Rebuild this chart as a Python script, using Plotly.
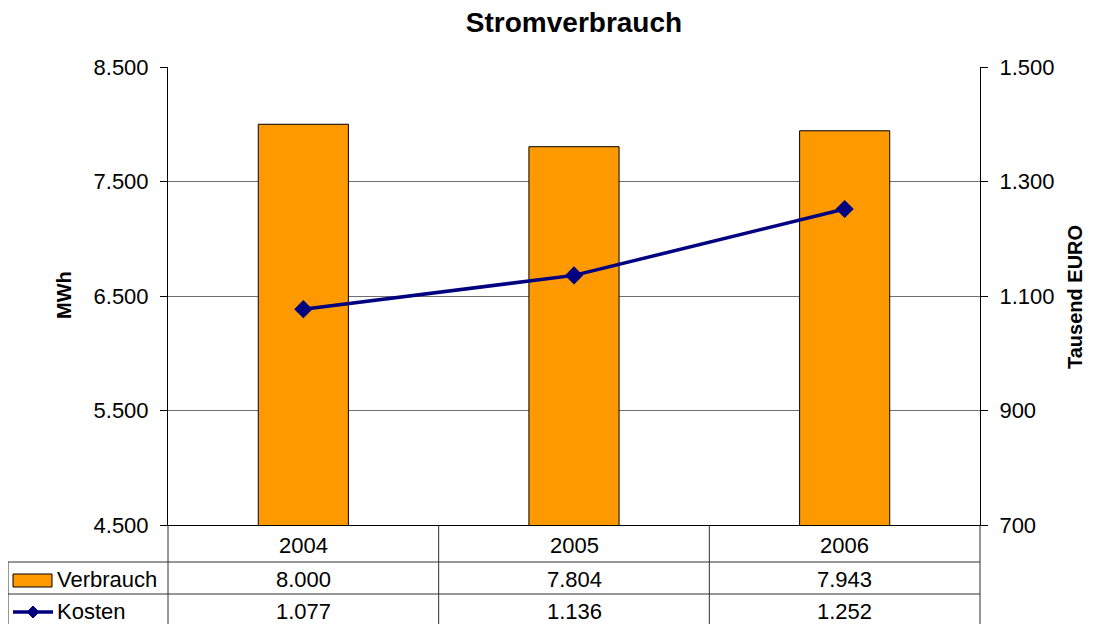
import plotly.graph_objects as go

# ---- data ----
years = ["2004", "2005", "2006"]
verbrauch = [8000, 7804, 7943]          # MWh
kosten = [1077, 1136, 1252]             # Tausend EURO
left_ticks = [4500, 5500, 6500, 7500, 8500]
right_ticks = [700, 900, 1100, 1300, 1500]

FONT = "Liberation Sans, Arial, sans-serif"
ORANGE = "#FF9900"
NAVY = "#000080"


def de(v):
    return f"{v:,}".replace(",", ".")


# page offset of the plot div (body margin)
OFF = 8
W, H = 1095 - OFF, 624 - OFF
# plot area in page pixels: x 168..980, y 67..525
PX0, PX1, PY0, PY1 = 168, 980, 67, 525
L, R, T, B = PX0 - OFF, (W + OFF) - PX1, PY0 - OFF, (H + OFF) - PY1
PW = PX1 - PX0
PH = PY1 - PY0


def px_x(px):
    return (px - PX0) / PW


def px_y(py):
    return (PY1 - py) / PH


fig = go.Figure()
fig.add_trace(go.Bar(
    x=years, y=verbrauch, name="Verbrauch", width=0.333,
    marker=dict(color=ORANGE, line=dict(color="#000000", width=1)),
    yaxis="y",
))
fig.add_trace(go.Scatter(
    x=years, y=kosten, name="Kosten", mode="lines+markers",
    line=dict(color=NAVY, width=3.5),
    marker=dict(symbol="diamond", size=14, color=NAVY),
    yaxis="y2",
))

shapes = []
annotations = []
line_style = dict(color="#303030", width=1)

# table horizontal lines
for py in (562, 594):
    shapes.append(dict(type="line", xref="paper", yref="paper",
                       x0=px_x(8), x1=1, y0=px_y(py), y1=px_y(py), line=line_style))
# table vertical lines
y_bot = px_y(640)
shapes.append(dict(type="line", xref="paper", yref="paper", x0=0, x1=0,
                   y0=0, y1=y_bot, line=line_style))
shapes.append(dict(type="line", xref="paper", yref="paper", x0=1, x1=1,
                   y0=0, y1=y_bot, line=line_style))
shapes.append(dict(type="line", xref="paper", yref="paper", x0=px_x(8), x1=px_x(8),
                   y0=px_y(562), y1=y_bot, line=line_style))
for i in range(len(years) - 1):
    shapes.append(dict(type="line", xref="x", yref="paper", x0=i + 0.5, x1=i + 0.5,
                       y0=0, y1=y_bot, line=line_style))

# legend keys
shapes.append(dict(type="rect", xref="paper", yref="paper",
                   x0=px_x(13), x1=px_x(52), y0=px_y(587), y1=px_y(574),
                   fillcolor=ORANGE, line=dict(color="#000000", width=1)))
shapes.append(dict(type="line", xref="paper", yref="paper",
                   x0=px_x(13), x1=px_x(53), y0=px_y(612), y1=px_y(612),
                   line=dict(color=NAVY, width=3.5)))
cx, cy, d = 33, 612, 6
path = (f"M {px_x(cx - d)} {px_y(cy)} L {px_x(cx)} {px_y(cy - d)} "
        f"L {px_x(cx + d)} {px_y(cy)} L {px_x(cx)} {px_y(cy + d)} Z")
shapes.append(dict(type="path", xref="paper", yref="paper", path=path,
                   fillcolor=NAVY, line=dict(color=NAVY, width=1)))

tfont = dict(family=FONT, size=22, color="#000000")
for i, yr in enumerate(years):
    annotations.append(dict(x=i, xref="x", y=px_y(545), yref="paper", text=yr,
                            showarrow=False, font=tfont, xanchor="center", yanchor="middle"))
    annotations.append(dict(x=i, xref="x", y=px_y(579), yref="paper", text=de(verbrauch[i]),
                            showarrow=False, font=tfont, xanchor="center", yanchor="middle"))
    annotations.append(dict(x=i, xref="x", y=px_y(611), yref="paper", text=de(kosten[i]),
                            showarrow=False, font=tfont, xanchor="center", yanchor="middle"))
annotations.append(dict(x=px_x(55), xref="paper", y=px_y(579), yref="paper", text="Verbrauch",
                        showarrow=False, font=tfont, xanchor="left", yanchor="middle"))
annotations.append(dict(x=px_x(55), xref="paper", y=px_y(611), yref="paper", text="Kosten",
                        showarrow=False, font=tfont, xanchor="left", yanchor="middle"))

# axis titles
annotations.append(dict(x=px_x(64), xref="paper", y=px_y(295), yref="paper", text="<b>MWh</b>",
                        textangle=-90, showarrow=False,
                        font=dict(family=FONT, size=20, color="#000000"),
                        xanchor="center", yanchor="middle"))
annotations.append(dict(x=px_x(1075), xref="paper", y=px_y(297), yref="paper",
                        text="<b>Tausend EURO</b>", textangle=-90, showarrow=False,
                        font=dict(family=FONT, size=20, color="#000000"),
                        xanchor="center", yanchor="middle"))

fig.update_layout(
    width=W, height=H,
    margin=dict(l=L, r=R, t=T, b=B, pad=0),
    paper_bgcolor="#FFFFFF", plot_bgcolor="#FFFFFF",
    separators=",.",
    showlegend=False,
    bargap=0.667,
    font=dict(family=FONT, size=22, color="#000000"),
    title=dict(text="<b>Stromverbrauch</b>", x=0.5, xref="paper", xanchor="center",
               y=1 - (22 - OFF) / H, yref="container", yanchor="middle",
               font=dict(family=FONT, size=28, color="#000000")),
    xaxis=dict(type="category", showticklabels=False, ticks="", showgrid=False,
               showline=True, linecolor="#000000", linewidth=1, zeroline=False,
               range=[-0.5, 2.5]),
    yaxis=dict(range=[4500, 8500], tickvals=left_ticks, tickformat=",d",
               showgrid=True, gridcolor="#707070", gridwidth=1,
               showline=True, linecolor="#000000", linewidth=1,
               ticks="outside", ticklen=7, tickcolor="#000000", zeroline=False,
               ticklabelstandoff=7,
               tickfont=dict(family=FONT, size=22)),
    yaxis2=dict(range=[700, 1500], tickvals=right_ticks, tickformat=",d",
                overlaying="y", side="right", showgrid=False,
                showline=True, linecolor="#000000", linewidth=1,
                ticks="outside", ticklen=7, tickcolor="#000000", zeroline=False,
                ticklabelstandoff=7,
                tickfont=dict(family=FONT, size=22)),
    shapes=shapes,
    annotations=annotations,
)

fig.write_html("out.html")
